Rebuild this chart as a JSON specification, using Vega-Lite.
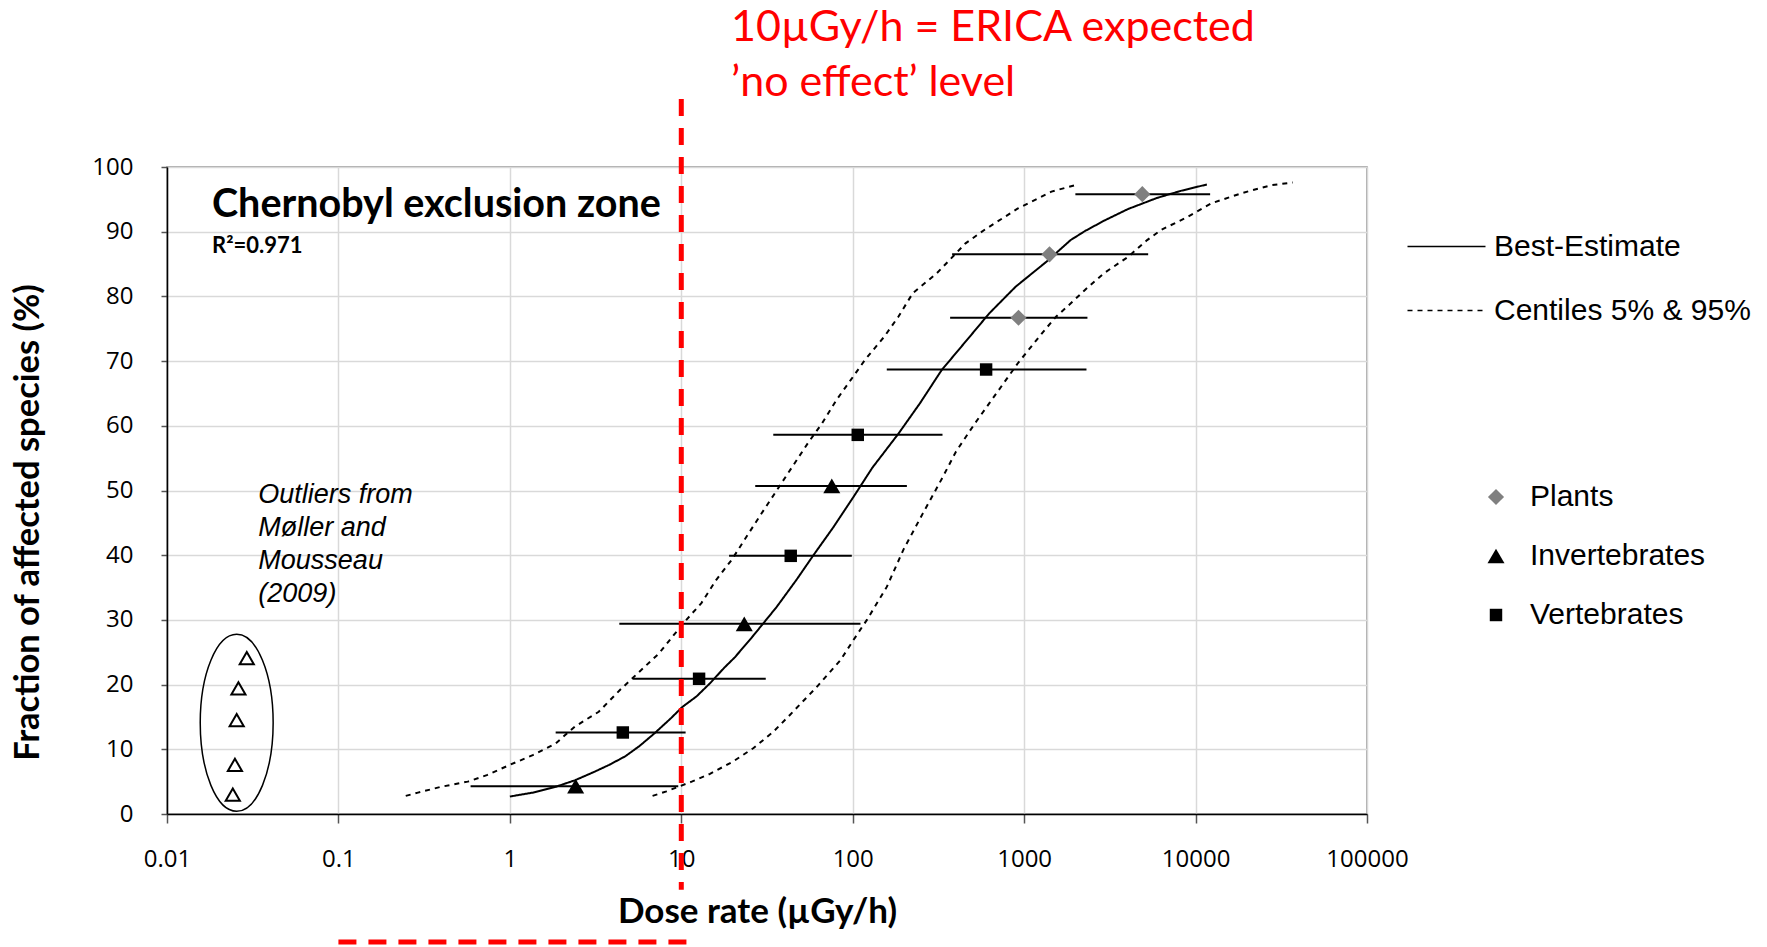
{
  "$schema": "https://vega.github.io/schema/vega-lite/v6.json",
  "width": 1200,
  "height": 647,
  "autosize": {"type": "none"},
  "padding": {"left": 167, "top": 167, "right": 400, "bottom": 133},
  "background": "white",
  "config": {
    "view": {"stroke": "#8c8c8c", "strokeWidth": 1.5},
    "legend": {"labelLimit": 0, "padding": 0, "offset": 0},
    "axis": {
      "labelFont": "Open Sans",
      "labelFontSize": 24,
      "labelColor": "#000000",
      "labelFlush": false,
      "labelOverlap": false,
      "grid": true,
      "gridColor": "#d9d9d9",
      "gridWidth": 1.5,
      "domainColor": "#000000",
      "domainWidth": 1.5,
      "tickColor": "#555555",
      "tickWidth": 1.5,
      "titleFont": "Lato",
      "titleFontWeight": "bold",
      "titleColor": "#000000"
    }
  },
  "datasets": {
    "curves": [
      {"curve": "best", "series": "Best-Estimate", "x": 1.0, "y": 2.7},
      {"curve": "best", "series": "Best-Estimate", "x": 1.36, "y": 3.3},
      {"curve": "best", "series": "Best-Estimate", "x": 1.85, "y": 4.2},
      {"curve": "best", "series": "Best-Estimate", "x": 2.39, "y": 5.2},
      {"curve": "best", "series": "Best-Estimate", "x": 3.1, "y": 6.5},
      {"curve": "best", "series": "Best-Estimate", "x": 3.8, "y": 7.6},
      {"curve": "best", "series": "Best-Estimate", "x": 4.7, "y": 8.9},
      {"curve": "best", "series": "Best-Estimate", "x": 5.7, "y": 10.5},
      {"curve": "best", "series": "Best-Estimate", "x": 7.0, "y": 12.5},
      {"curve": "best", "series": "Best-Estimate", "x": 8.7, "y": 14.8},
      {"curve": "best", "series": "Best-Estimate", "x": 10.1, "y": 16.5},
      {"curve": "best", "series": "Best-Estimate", "x": 12.3, "y": 18.2},
      {"curve": "best", "series": "Best-Estimate", "x": 14.7, "y": 20.2},
      {"curve": "best", "series": "Best-Estimate", "x": 17.8, "y": 22.6},
      {"curve": "best", "series": "Best-Estimate", "x": 20.5, "y": 24.2},
      {"curve": "best", "series": "Best-Estimate", "x": 26, "y": 27.4},
      {"curve": "best", "series": "Best-Estimate", "x": 36, "y": 32.0},
      {"curve": "best", "series": "Best-Estimate", "x": 47, "y": 36.2},
      {"curve": "best", "series": "Best-Estimate", "x": 59, "y": 40.0},
      {"curve": "best", "series": "Best-Estimate", "x": 77, "y": 44.3},
      {"curve": "best", "series": "Best-Estimate", "x": 101, "y": 49.0},
      {"curve": "best", "series": "Best-Estimate", "x": 130, "y": 53.5},
      {"curve": "best", "series": "Best-Estimate", "x": 185, "y": 58.8},
      {"curve": "best", "series": "Best-Estimate", "x": 247, "y": 63.5},
      {"curve": "best", "series": "Best-Estimate", "x": 330, "y": 68.6},
      {"curve": "best", "series": "Best-Estimate", "x": 455, "y": 73.0},
      {"curve": "best", "series": "Best-Estimate", "x": 627, "y": 77.4},
      {"curve": "best", "series": "Best-Estimate", "x": 892, "y": 81.5},
      {"curve": "best", "series": "Best-Estimate", "x": 1355, "y": 85.4},
      {"curve": "best", "series": "Best-Estimate", "x": 1866, "y": 88.7},
      {"curve": "best", "series": "Best-Estimate", "x": 2263, "y": 90.1},
      {"curve": "best", "series": "Best-Estimate", "x": 2926, "y": 91.7},
      {"curve": "best", "series": "Best-Estimate", "x": 4034, "y": 93.5},
      {"curve": "best", "series": "Best-Estimate", "x": 5930, "y": 95.2},
      {"curve": "best", "series": "Best-Estimate", "x": 8170, "y": 96.3},
      {"curve": "best", "series": "Best-Estimate", "x": 11640, "y": 97.3},
      {"curve": "p5", "series": "Centiles 5% & 95%", "x": 0.247, "y": 2.8},
      {"curve": "p5", "series": "Centiles 5% & 95%", "x": 0.291, "y": 3.3},
      {"curve": "p5", "series": "Centiles 5% & 95%", "x": 0.396, "y": 4.2},
      {"curve": "p5", "series": "Centiles 5% & 95%", "x": 0.568, "y": 5.0},
      {"curve": "p5", "series": "Centiles 5% & 95%", "x": 0.734, "y": 6.0},
      {"curve": "p5", "series": "Centiles 5% & 95%", "x": 1.0, "y": 7.6},
      {"curve": "p5", "series": "Centiles 5% & 95%", "x": 1.36, "y": 9.1},
      {"curve": "p5", "series": "Centiles 5% & 95%", "x": 1.85, "y": 10.9},
      {"curve": "p5", "series": "Centiles 5% & 95%", "x": 2.39, "y": 13.5},
      {"curve": "p5", "series": "Centiles 5% & 95%", "x": 3.3, "y": 15.8},
      {"curve": "p5", "series": "Centiles 5% & 95%", "x": 4.4, "y": 19.2},
      {"curve": "p5", "series": "Centiles 5% & 95%", "x": 5.7, "y": 22.0},
      {"curve": "p5", "series": "Centiles 5% & 95%", "x": 7.4, "y": 24.8},
      {"curve": "p5", "series": "Centiles 5% & 95%", "x": 9.0, "y": 27.6},
      {"curve": "p5", "series": "Centiles 5% & 95%", "x": 10.7, "y": 30.0},
      {"curve": "p5", "series": "Centiles 5% & 95%", "x": 13.1, "y": 32.6},
      {"curve": "p5", "series": "Centiles 5% & 95%", "x": 16.0, "y": 36.2},
      {"curve": "p5", "series": "Centiles 5% & 95%", "x": 19.7, "y": 39.3},
      {"curve": "p5", "series": "Centiles 5% & 95%", "x": 24.2, "y": 43.0},
      {"curve": "p5", "series": "Centiles 5% & 95%", "x": 28.8, "y": 46.1},
      {"curve": "p5", "series": "Centiles 5% & 95%", "x": 36, "y": 50.0},
      {"curve": "p5", "series": "Centiles 5% & 95%", "x": 44, "y": 53.5},
      {"curve": "p5", "series": "Centiles 5% & 95%", "x": 54.7, "y": 57.3},
      {"curve": "p5", "series": "Centiles 5% & 95%", "x": 66.3, "y": 60.4},
      {"curve": "p5", "series": "Centiles 5% & 95%", "x": 80.4, "y": 64.0},
      {"curve": "p5", "series": "Centiles 5% & 95%", "x": 97.5, "y": 67.1},
      {"curve": "p5", "series": "Centiles 5% & 95%", "x": 118, "y": 70.2},
      {"curve": "p5", "series": "Centiles 5% & 95%", "x": 153, "y": 73.8},
      {"curve": "p5", "series": "Centiles 5% & 95%", "x": 185, "y": 76.9},
      {"curve": "p5", "series": "Centiles 5% & 95%", "x": 224, "y": 80.5},
      {"curve": "p5", "series": "Centiles 5% & 95%", "x": 310, "y": 83.6},
      {"curve": "p5", "series": "Centiles 5% & 95%", "x": 455, "y": 88.2},
      {"curve": "p5", "series": "Centiles 5% & 95%", "x": 588, "y": 90.3},
      {"curve": "p5", "series": "Centiles 5% & 95%", "x": 920, "y": 93.6},
      {"curve": "p5", "series": "Centiles 5% & 95%", "x": 1443, "y": 96.2},
      {"curve": "p5", "series": "Centiles 5% & 95%", "x": 2055, "y": 97.3},
      {"curve": "p95", "series": "Centiles 5% & 95%", "x": 6.8, "y": 2.8},
      {"curve": "p95", "series": "Centiles 5% & 95%", "x": 8.2, "y": 3.5},
      {"curve": "p95", "series": "Centiles 5% & 95%", "x": 9.6, "y": 4.2},
      {"curve": "p95", "series": "Centiles 5% & 95%", "x": 11.5, "y": 5.0},
      {"curve": "p95", "series": "Centiles 5% & 95%", "x": 14.7, "y": 6.2},
      {"curve": "p95", "series": "Centiles 5% & 95%", "x": 20, "y": 8.1},
      {"curve": "p95", "series": "Centiles 5% & 95%", "x": 26.4, "y": 10.2},
      {"curve": "p95", "series": "Centiles 5% & 95%", "x": 34.4, "y": 12.7},
      {"curve": "p95", "series": "Centiles 5% & 95%", "x": 43, "y": 15.3},
      {"curve": "p95", "series": "Centiles 5% & 95%", "x": 62, "y": 19.7},
      {"curve": "p95", "series": "Centiles 5% & 95%", "x": 85, "y": 23.8},
      {"curve": "p95", "series": "Centiles 5% & 95%", "x": 101, "y": 26.9},
      {"curve": "p95", "series": "Centiles 5% & 95%", "x": 121, "y": 30.0},
      {"curve": "p95", "series": "Centiles 5% & 95%", "x": 158, "y": 35.1},
      {"curve": "p95", "series": "Centiles 5% & 95%", "x": 198, "y": 40.9},
      {"curve": "p95", "series": "Centiles 5% & 95%", "x": 257, "y": 46.5},
      {"curve": "p95", "series": "Centiles 5% & 95%", "x": 334, "y": 52.0},
      {"curve": "p95", "series": "Centiles 5% & 95%", "x": 400, "y": 56.0},
      {"curve": "p95", "series": "Centiles 5% & 95%", "x": 517, "y": 60.4},
      {"curve": "p95", "series": "Centiles 5% & 95%", "x": 627, "y": 63.5},
      {"curve": "p95", "series": "Centiles 5% & 95%", "x": 760, "y": 66.6},
      {"curve": "p95", "series": "Centiles 5% & 95%", "x": 921, "y": 69.7},
      {"curve": "p95", "series": "Centiles 5% & 95%", "x": 1270, "y": 74.3},
      {"curve": "p95", "series": "Centiles 5% & 95%", "x": 1540, "y": 76.9},
      {"curve": "p95", "series": "Centiles 5% & 95%", "x": 1866, "y": 78.9},
      {"curve": "p95", "series": "Centiles 5% & 95%", "x": 2263, "y": 81.0},
      {"curve": "p95", "series": "Centiles 5% & 95%", "x": 2926, "y": 83.6},
      {"curve": "p95", "series": "Centiles 5% & 95%", "x": 4034, "y": 86.1},
      {"curve": "p95", "series": "Centiles 5% & 95%", "x": 5216, "y": 88.7},
      {"curve": "p95", "series": "Centiles 5% & 95%", "x": 6320, "y": 90.3},
      {"curve": "p95", "series": "Centiles 5% & 95%", "x": 8710, "y": 92.1},
      {"curve": "p95", "series": "Centiles 5% & 95%", "x": 12400, "y": 94.4},
      {"curve": "p95", "series": "Centiles 5% & 95%", "x": 18800, "y": 96.0},
      {"curve": "p95", "series": "Centiles 5% & 95%", "x": 27700, "y": 97.2},
      {"curve": "p95", "series": "Centiles 5% & 95%", "x": 36900, "y": 97.6}
    ],
    "species": [
      {"group": "Plants", "x": 4890, "y": 95.8, "lo": 1990, "hi": 12160},
      {"group": "Plants", "x": 1406, "y": 86.5, "lo": 380, "hi": 5290},
      {"group": "Plants", "x": 927, "y": 76.7, "lo": 370, "hi": 2340},
      {"group": "Vertebrates", "x": 600, "y": 68.7, "lo": 158, "hi": 2310},
      {"group": "Vertebrates", "x": 107, "y": 58.6, "lo": 34.4, "hi": 334},
      {"group": "Vertebrates", "x": 43.5, "y": 39.9, "lo": 19.0, "hi": 98.8},
      {"group": "Vertebrates", "x": 12.7, "y": 20.9, "lo": 5.21, "hi": 31.1},
      {"group": "Vertebrates", "x": 4.56, "y": 12.6, "lo": 1.85, "hi": 10.6},
      {"group": "Invertebrates", "x": 75.5, "y": 50.7, "lo": 27.0, "hi": 207},
      {"group": "Invertebrates", "x": 23.3, "y": 29.4, "lo": 4.35, "hi": 111},
      {"group": "Invertebrates", "x": 2.42, "y": 4.3, "lo": 0.59, "hi": 9.6}
    ],
    "outliers": [
      {"x": 0.0292, "y": 24.1},
      {"x": 0.0261, "y": 19.4},
      {"x": 0.0255, "y": 14.5},
      {"x": 0.0249, "y": 7.6},
      {"x": 0.0242, "y": 3.0}
    ]
  },
  "layer": [
    {
      "data": {"name": "curves"},
      "mark": {"type": "line", "color": "#000000", "strokeWidth": 2},
      "encoding": {
        "x": {
          "field": "x", "type": "quantitative", "title": "Dose rate (µGy/h)",
          "scale": {"type": "log", "domain": [0.01, 100000], "nice": false},
          "axis": {
            "values": [0.01, 0.1, 1, 10, 100, 1000, 10000, 100000],
            "format": "~g",
            "tickSize": 9,
            "labelPadding": 24,
            "titleFontSize": 35,
            "titleX": 590,
            "titleY": 108,
            "titleBaseline": "alphabetic"
          }
        },
        "y": {
          "field": "y", "type": "quantitative", "title": "Fraction of affected species (%)",
          "scale": {"domain": [0, 100], "nice": false, "zero": false},
          "axis": {
            "values": [0, 10, 20, 30, 40, 50, 60, 70, 80, 90, 100],
            "tickSize": 6,
            "labelPadding": 28,
            "titleFontSize": 34.5,
            "titleAngle": 270,
            "titleX": -129,
            "titleY": 355,
            "titleAlign": "center",
            "titleBaseline": "alphabetic"
          }
        },
        "detail": {"field": "curve"},
        "strokeDash": {
          "field": "series", "type": "nominal",
          "scale": {"domain": ["Best-Estimate", "Centiles 5% & 95%"], "range": [[1, 0], [5, 5]]},
          "legend": {
            "orient": "none",
            "legendX": 1259,
            "legendY": 59,
            "title": null,
            "symbolType": "M-2,0L2,0",
            "symbolSize": 1521,
            "symbolStrokeWidth": 1.5,
            "symbolStrokeColor": "#000000",
            "labelFont": "Liberation Sans",
            "labelFontSize": 30,
            "labelColor": "#000000",
            "labelOffset": 27,
            "rowPadding": 28
          }
        }
      }
    },
    {
      "data": {"name": "species"},
      "mark": {"type": "rule", "color": "#000000", "strokeWidth": 2},
      "encoding": {
        "x": {"field": "lo", "type": "quantitative", "title": "Dose rate (µGy/h)"},
        "x2": {"field": "hi"},
        "y": {"field": "y", "type": "quantitative", "title": "Fraction of affected species (%)"}
      }
    },
    {
      "data": {"name": "species"},
      "mark": {"type": "point", "filled": true, "opacity": 1, "strokeWidth": 0},
      "encoding": {
        "x": {"field": "x", "type": "quantitative", "title": "Dose rate (µGy/h)"},
        "y": {"field": "y", "type": "quantitative", "title": "Fraction of affected species (%)"},
        "size": {
          "field": "group", "type": "nominal",
          "scale": {"type": "ordinal", "domain": ["Plants", "Invertebrates", "Vertebrates"], "range": [260, 290, 155]},
          "legend": null
        },
        "shape": {
          "field": "group", "type": "nominal",
          "scale": {"domain": ["Plants", "Invertebrates", "Vertebrates"], "range": ["diamond", "triangle-up", "square"]},
          "legend": {
            "orient": "none", "legendX": 1314, "legendY": 315, "title": null,
            "symbolSize": 170, "labelFont": "Liberation Sans", "labelFontSize": 30, "labelColor": "#000000",
            "labelOffset": 19, "rowPadding": 29
          }
        },
        "color": {
          "field": "group", "type": "nominal",
          "scale": {"domain": ["Plants", "Invertebrates", "Vertebrates"], "range": ["#808080", "#000000", "#000000"]},
          "legend": {
            "orient": "none", "legendX": 1314, "legendY": 315, "title": null,
            "symbolSize": 170, "labelFont": "Liberation Sans", "labelFontSize": 30, "labelColor": "#000000",
            "labelOffset": 19, "rowPadding": 29
          }
        }
      }
    },
    {
      "data": {"name": "outliers"},
      "mark": {"type": "point", "shape": "triangle-up", "filled": false, "stroke": "#000000", "strokeWidth": 2, "size": 200, "opacity": 1},
      "encoding": {
        "x": {"field": "x", "type": "quantitative", "title": "Dose rate (µGy/h)"},
        "y": {"field": "y", "type": "quantitative", "title": "Fraction of affected species (%)"}
      }
    },
    {
      "data": {"values": [{"x": 0.0255, "y": 14.1}]},
      "mark": {
        "type": "point",
        "shape": "M0,-1C0.2275,-1,0.412,-0.5523,0.412,0C0.412,0.5523,0.2275,1,0,1C-0.2275,1,-0.412,0.5523,-0.412,0C-0.412,-0.5523,-0.2275,-1,0,-1Z",
        "filled": false, "stroke": "#000000", "strokeWidth": 1.5, "size": 31329, "opacity": 1
      },
      "encoding": {
        "x": {"field": "x", "type": "quantitative", "title": "Dose rate (µGy/h)"},
        "y": {"field": "y", "type": "quantitative", "title": "Fraction of affected species (%)"}
      }
    },
    {
      "data": {"values": [{"x": 10, "y": 110.5, "y2": -11.7}]},
      "mark": {"type": "rule", "color": "#ff0000", "strokeWidth": 5, "strokeDash": [17, 12]},
      "encoding": {
        "x": {"field": "x", "type": "quantitative", "title": "Dose rate (µGy/h)"},
        "y": {"field": "y", "type": "quantitative", "title": "Fraction of affected species (%)"},
        "y2": {"field": "y2"}
      }
    },
    {
      "data": {"values": [{"x": 0.1, "x2": 11.2, "y": -19.8}]},
      "mark": {"type": "rule", "color": "#ff0000", "strokeWidth": 5, "strokeDash": [18, 12]},
      "encoding": {
        "x": {"field": "x", "type": "quantitative", "title": "Dose rate (µGy/h)"},
        "x2": {"field": "x2"},
        "y": {"field": "y", "type": "quantitative", "title": "Fraction of affected species (%)"}
      }
    },
    {
      "data": {"values": [{"x": 0.0183, "y": 92.3, "t": "Chernobyl exclusion zone"}]},
      "mark": {"type": "text", "font": "Lato", "fontWeight": "bold", "fontSize": 39.5, "align": "left", "baseline": "alphabetic", "color": "#000000"},
      "encoding": {
        "x": {"field": "x", "type": "quantitative", "title": "Dose rate (µGy/h)"},
        "y": {"field": "y", "type": "quantitative", "title": "Fraction of affected species (%)"},
        "text": {"field": "t"}
      }
    },
    {
      "data": {"values": [{"x": 0.0183, "y": 86.7, "t": "R²=0.971"}]},
      "mark": {"type": "text", "font": "Lato", "fontWeight": "bold", "fontSize": 22, "align": "left", "baseline": "alphabetic", "color": "#000000"},
      "encoding": {
        "x": {"field": "x", "type": "quantitative", "title": "Dose rate (µGy/h)"},
        "y": {"field": "y", "type": "quantitative", "title": "Fraction of affected species (%)"},
        "text": {"field": "t"}
      }
    },
    {
      "data": {"values": [
        {"x": 0.0341, "y": 48.0, "t": "Outliers from"},
        {"x": 0.0341, "y": 43.0, "t": "Møller and"},
        {"x": 0.0341, "y": 37.9, "t": "Mousseau"},
        {"x": 0.0341, "y": 32.8, "t": "(2009)"}
      ]},
      "mark": {"type": "text", "font": "Liberation Sans", "fontStyle": "italic", "fontSize": 27, "align": "left", "baseline": "alphabetic", "color": "#000000"},
      "encoding": {
        "x": {"field": "x", "type": "quantitative", "title": "Dose rate (µGy/h)"},
        "y": {"field": "y", "type": "quantitative", "title": "Fraction of affected species (%)"},
        "text": {"field": "t"}
      }
    },
    {
      "data": {"values": [
        {"x": 19.5, "y": 119.4, "t": "10µGy/h = ERICA expected"},
        {"x": 19.5, "y": 110.9, "t": "’no effect’ level"}
      ]},
      "mark": {"type": "text", "font": "Lato", "fontSize": 43, "align": "left", "baseline": "alphabetic", "color": "#ff0000"},
      "encoding": {
        "x": {"field": "x", "type": "quantitative", "title": "Dose rate (µGy/h)"},
        "y": {"field": "y", "type": "quantitative", "title": "Fraction of affected species (%)"},
        "text": {"field": "t"}
      }
    }
  ]
}
